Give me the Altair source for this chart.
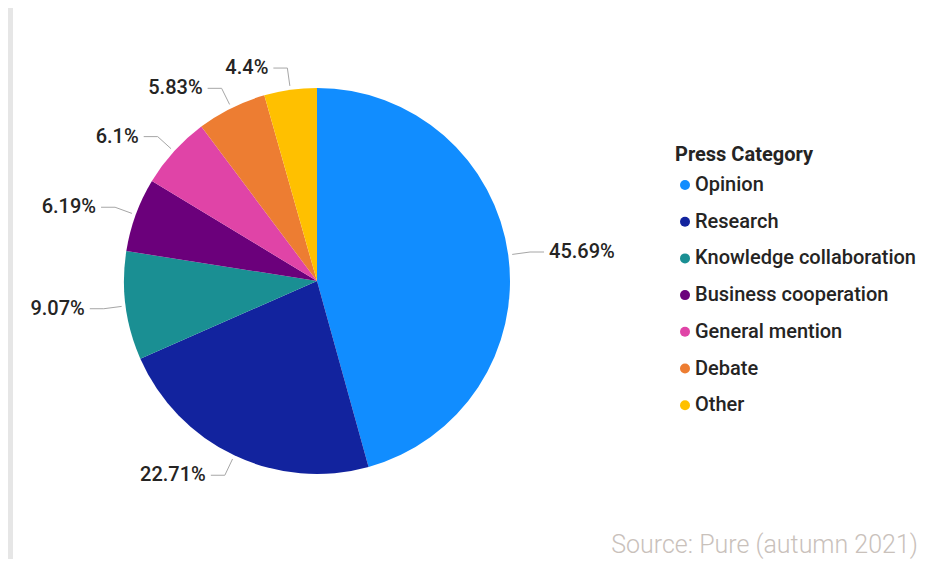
import altair as alt
import pandas as pd

categories = ["Opinion", "Research", "Knowledge collaboration", "Business cooperation",
              "General mention", "Debate", "Other"]
shares = [45.69, 22.71, 9.07, 6.19, 6.1, 5.83, 4.4]
labels = ["45.69%", "22.71%", "9.07%", "6.19%", "6.1%", "5.83%", "4.4%"]
colors = ["#118DFF", "#12239E", "#1A8F93", "#6B007B", "#E044A7", "#ED7D32", "#FFC000"]
source_note = "Source: Pure (autumn 2021)"

W, H = 914, 551
CX, CY, R = 309, 273, 193
R1, R2, HSEG, GAP = R + 4, R + 22, 14, 5
FONT = "Roboto"
TXT = "#252423"

df = pd.DataFrame({"category": categories, "share": shares, "label": labels,
                   "idx": list(range(len(categories)))})
base = alt.Chart(df)

pie = base.mark_arc(radius=R).encode(
    theta=alt.Theta("share:Q", stack=True),
    color=alt.Color(
        "category:N",
        scale=alt.Scale(domain=categories, range=colors),
        sort=categories,
        legend=alt.Legend(
            title="Press Category", orient="none", legendX=667, legendY=137,
            titleFont=FONT, titleFontSize=20, titleFontWeight="bold", titleColor=TXT,
            titlePadding=10, labelFont=FONT, labelFontSize=20, labelFontWeight=500,
            labelColor=TXT, labelLimit=0,
            symbolType="circle", symbolSize=100, symbolStrokeWidth=0,
            rowPadding=16.7, labelOffset=0, padding=0, symbolOffset=0,
        ),
    ),
    order=alt.Order("idx:Q"),
    x=alt.value(CX),
    y=alt.value(CY),
)

geo = base.transform_joinaggregate(total="sum(share)").transform_window(
    cum="sum(share)", sort=[alt.SortField("idx")], frame=[None, 0]
).transform_calculate(
    mid="(datum.cum - datum.share/2)/datum.total*2*PI"
).transform_calculate(
    ex=f"{CX} + {R1}*sin(datum.mid)",
    ey=f"{CY} - {R1}*cos(datum.mid)",
    kx=f"{CX} + {R2}*sin(datum.mid)",
    ky=f"{CY} - {R2}*cos(datum.mid)",
    side="sin(datum.mid) >= 0 ? 1 : -1",
).transform_calculate(
    hx=f"datum.kx + datum.side*{HSEG}",
).transform_calculate(
    lx=f"datum.hx + datum.side*{GAP}",
)

def px(f):
    return alt.X(f, scale=None, axis=None)

def py(f):
    return alt.Y(f, scale=None, axis=None)

rule1 = geo.mark_rule(color="#A6A6A6", strokeWidth=1).encode(
    x=px("ex:Q"), y=py("ey:Q"), x2="kx:Q", y2="ky:Q")
rule2 = geo.mark_rule(color="#A6A6A6", strokeWidth=1).encode(
    x=px("kx:Q"), y=py("ky:Q"), x2="hx:Q", y2="ky:Q")

text_r = geo.transform_filter("datum.side > 0").mark_text(
    align="left", baseline="middle", font=FONT, fontSize=20, fontWeight=500, color=TXT
).encode(x=px("lx:Q"), y=py("ky:Q"), text="label:N")
text_l = geo.transform_filter("datum.side < 0").mark_text(
    align="right", baseline="middle", font=FONT, fontSize=20, fontWeight=500, color=TXT
).encode(x=px("lx:Q"), y=py("ky:Q"), text="label:N")

source = alt.Chart(pd.DataFrame({"t": [source_note]})).mark_text(
    align="right", baseline="middle", font=FONT, fontSize=25, fontWeight=300, color="#C9C1BB"
).encode(x=alt.value(910), y=alt.value(537), text="t:N")

strip = alt.Chart(pd.DataFrame({"t": [0]})).mark_rect(color="#E6E6E6").encode(
    x=alt.value(0), x2=alt.value(5), y=alt.value(0), y2=alt.value(H))

chart = alt.layer(strip, pie, rule1, rule2, text_r, text_l, source).properties(
    width=W, height=H, autosize="none", padding=0, background="white"
).configure_view(strokeWidth=0)

chart.save("out.html", embed_options={"renderer": "svg", "actions": False})
